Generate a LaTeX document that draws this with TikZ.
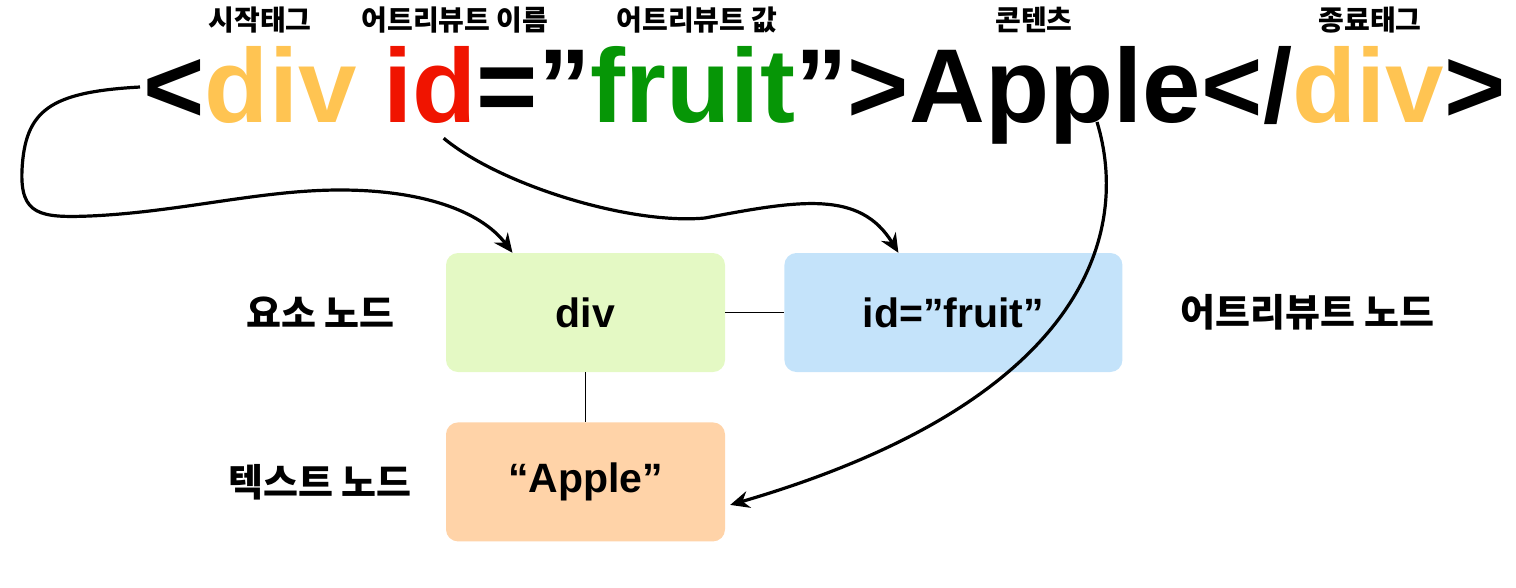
\documentclass[tikz,border=0pt]{standalone}
\usepackage{fontspec}
\setmainfont{Liberation Sans}
\newfontfamily\kor{Noto Sans CJK KR}
\usetikzlibrary{arrows.meta,positioning}

\definecolor{tagc}{RGB}{255,196,82}
\definecolor{attrc}{RGB}{240,20,0}
\definecolor{valc}{RGB}{6,150,6}
\definecolor{elemfill}{RGB}{228,249,196}
\definecolor{attrfill}{RGB}{196,227,250}
\definecolor{textfill}{RGB}{255,211,168}

\tikzset{
  big/.style={inner sep=0pt, anchor=base west, font=\bfseries\fontsize{105}{110}\selectfont},
  toplabel/.style={inner sep=0pt, font=\kor\bfseries\fontsize{28}{30}\selectfont},
  sidelabel/.style={inner sep=0pt, font=\kor\bfseries\fontsize{38}{40}\selectfont},
  domnode/.style={rounded corners=12pt, minimum width=279pt, minimum height=119pt,
    font=\bfseries\fontsize{41}{44}\selectfont},
  link/.style={-{Stealth[length=19pt,width=17pt]}, line width=3.2pt},
}

\begin{document}
\begin{tikzpicture}[x=1pt,y=-1pt]
    \useasboundingbox (0,0) rectangle (1516,587);

    % Code HTML
    \node[big] (lt) at (143,122) {<};
    \node[big, text=tagc] (opentag) at (lt.base east) {div};
    \node[big, text=attrc] (attr) at ([xshift=26pt]opentag.base east) {id};
    \node[big] (eq) at (attr.base east) {=”};
    \node[big, text=valc] (val) at (eq.base east) {fruit};
    \node[big] (gt) at (val.base east) {”>};
    \node[big] (content) at (gt.base east) {Apple};
    \node[big] (ltslash) at (content.base east) {</};
    \node[big, text=tagc] (closetag) at (ltslash.base east) {div};
    \node[big] (gtend) at (closetag.base east) {>};

    % Etiquettes du haut
    \node[toplabel] (lopen) at (260,20) {시작태그};
    \node[toplabel] (lattr) at (455,20) {어트리뷰트 이름};
    \node[toplabel] (lval) at (697,20) {어트리뷰트 값};
    \node[toplabel] (lcontent) at (1034,20) {콘텐츠};
    \node[toplabel] (lclose) at (1370,20) {종료태그};

    % Noeuds DOM
    \node[domnode, fill=elemfill] (elem) at (585.5,312.5) {div};
    \node[domnode, fill=attrfill, minimum width=338pt, right=59pt of elem] (attrnode) {id=”fruit”};
    \node[domnode, fill=textfill, below=50pt of elem] (textnode) {“Apple”};

    \node[sidelabel, left=51pt of elem] (lelem) {요소 노드};
    \node[sidelabel, right=58pt of attrnode] (lattrnode) {어트리뷰트 노드};
    \node[sidelabel, left=34pt of textnode] (ltext) {텍스트 노드};

    \draw[line width=1.8pt] (elem) -- (attrnode);
    \draw[line width=1.8pt] (elem) -- (textnode);

    % Fleches
    \coordinate (s1) at ([xshift=-3pt,yshift=35pt]lt.base west);
    \coordinate (s2) at ([xshift=14pt,yshift=-15pt]attr.south);
    \coordinate (s3) at (1097,122);
    \coordinate (t1) at ([xshift=-73pt]elem.north);
    \coordinate (t2) at ([xshift=-55pt]attrnode.north);
    \coordinate (t3) at ([xshift=5pt,yshift=-23pt]textnode.east);

    \draw[link] (s1) .. controls (50,92) and (25,110) .. (22,170)
        .. controls (20,215) and (40,218) .. (90,216)
        .. controls (180,212) and (260,190) .. (340,190)
        .. controls (420,190) and (480,210) .. (t1);
    \draw[link] (s2) .. controls (500,185) and (630,225) .. (705,218)
        .. controls (800,200) and (860,190) .. (t2);
    \draw[link] (s3) .. controls (1130,230) and (1090,400) .. (t3);

\end{tikzpicture}
\end{document}
